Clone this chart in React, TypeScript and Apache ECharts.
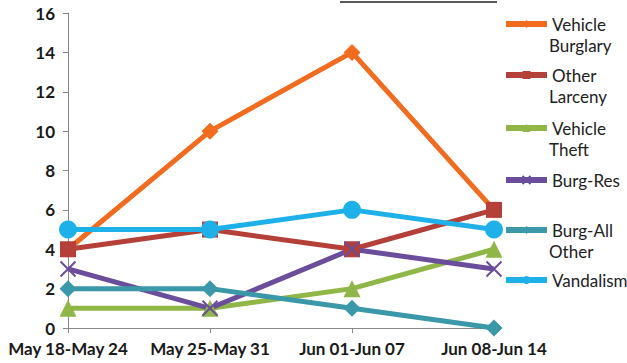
import React, { useEffect, useRef } from "react";
import * as echarts from "echarts";

const categories = ["May 18-May 24", "May 25-May 31", "Jun 01-Jun 07", "Jun 08-Jun 14"];
const vehicleBurglary = [4, 10, 14, 6];
const otherLarceny = [4, 5, 4, 6];
const vehicleTheft = [1, 1, 2, 4];
const burgRes = [3, 1, 4, 3];
const burgAllOther = [2, 2, 1, 0];
const vandalism = [5, 5, 6, 5];
const yTicks = { min: 0, max: 16, interval: 2 };

const FONT = "Lato, 'Open Sans', sans-serif";
const LH = 21;
const FS = 17;

const seriesDefs = [
  { name: "Vehicle Burglary", label: ["Vehicle", "Burglary"], data: vehicleBurglary, color: "#F26C1F", symbol: "diamond", size: 17, legendY: 24 },
  { name: "Other Larceny", label: ["Other", "Larceny"], data: otherLarceny, color: "#B5403A", symbol: "rect", size: 16, legendY: 75 },
  { name: "Vehicle Theft", label: ["Vehicle", "Theft"], data: vehicleTheft, color: "#8FB646", symbol: "triangle", size: 17, legendY: 128 },
  { name: "Burg-Res", label: ["Burg-Res"], data: burgRes, color: "#6B4E9B", symbol: "path://M0,0L10,10M10,0L0,10", size: 15, legendY: 180 },
  { name: "Burg-All Other", label: ["Burg-All", "Other"], data: burgAllOther, color: "#3A98A8", symbol: "diamond", size: 17, legendY: 230 },
  { name: "Vandalism", label: ["Vandalism"], data: vandalism, color: "#1EB0E8", symbol: "circle", size: 18, legendY: 280 },
];

const LEG_LEFT = 503;
const ICON_W = 41;
const ICON_H = 10;

export default function App() {
  const ref = useRef<HTMLDivElement>(null);
  useEffect(() => {
    if (!ref.current) return;
    const chart = echarts.init(ref.current, null, { renderer: "svg" });
    const legends = seriesDefs.map((s) => ({
      data: [s.name],
      left: LEG_LEFT,
      top: s.legendY - LH / 2,
      padding: 0,
      itemWidth: ICON_W,
      itemHeight: ICON_H,
      itemGap: 0,
      formatter: () => s.label[0],
      lineStyle: { width: 6 },
      textStyle: { fontFamily: FONT, fontSize: FS, color: "#222", lineHeight: LH },
    }));
    const secondLines = seriesDefs
      .filter((s) => s.label.length > 1)
      .map((s) => ({
        type: "text",
        left: LEG_LEFT + ICON_W + 5,
        top: s.legendY + LH / 2,
        style: { text: s.label[1], font: `${FS}px ${FONT}`, fill: "#222", lineHeight: LH },
      }));
    chart.setOption({
      animation: false,
      backgroundColor: "#fff",
      grid: { left: 68, right: 133, top: 13, bottom: 35, containLabel: false },
      legend: legends,
      graphic: [
        { type: "line", shape: { x1: 340, y1: 2, x2: 497, y2: 2 }, style: { stroke: "#222", lineWidth: 1.5 } },
        ...secondLines,
      ],
      xAxis: {
        type: "category",
        data: categories,
        boundaryGap: false,
        axisLine: { lineStyle: { color: "#888", width: 1 } },
        axisTick: { show: true, alignWithLabel: true, length: 5, lineStyle: { color: "#888" } },
        axisLabel: { interval: 0, hideOverlap: false, fontFamily: FONT, fontSize: FS, fontWeight: "bold", color: "#1a1a1a", margin: 12 },
      },
      yAxis: {
        type: "value",
        min: yTicks.min,
        max: yTicks.max,
        interval: yTicks.interval,
        axisLine: { show: true, lineStyle: { color: "#888", width: 1 } },
        axisTick: { show: true, length: 5, lineStyle: { color: "#888" } },
        splitLine: { show: false },
        axisLabel: { fontFamily: FONT, fontSize: FS, fontWeight: "bold", color: "#1a1a1a", margin: 13 },
      },
      series: seriesDefs.map((s) => ({
        name: s.name,
        type: "line",
        data: s.data,
        symbol: s.symbol,
        symbolSize: s.size,
        showAllSymbol: true,
        lineStyle: { color: s.color, width: 5 },
        itemStyle:
          s.name === "Burg-Res"
            ? { color: "transparent", borderColor: s.color, borderWidth: 2 }
            : { color: s.color, borderColor: s.color, borderWidth: 0 },
        emphasis: { disabled: true },
      })),
    });
    return () => chart.dispose();
  }, []);
  return <div ref={ref} style={{ width: 627, height: 363, position: "absolute", left: 0, top: 0 }} />;
}
